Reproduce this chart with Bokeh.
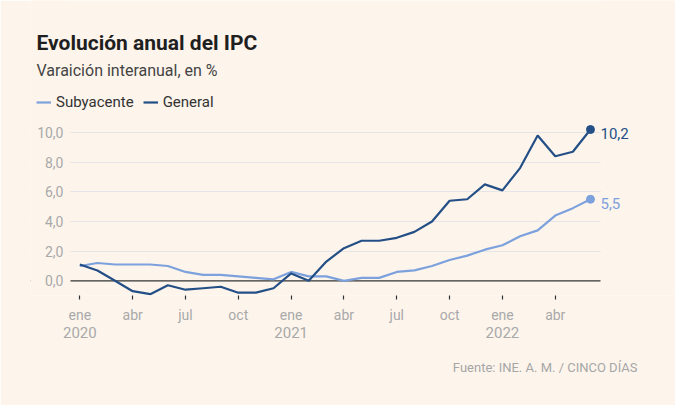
from bokeh.plotting import figure
from bokeh.models import (ColumnDataSource, FixedTicker, LinearAxis, Span, Title, Label,
                          LabelSet, Legend, LegendItem, Range1d, BoxAnnotation)
from bokeh.core.properties import value
from bokeh.embed import file_html
from bokeh.resources import INLINE

# ---- data ----
meses = ["2020-01", "2020-02", "2020-03", "2020-04", "2020-05", "2020-06",
         "2020-07", "2020-08", "2020-09", "2020-10", "2020-11", "2020-12",
         "2021-01", "2021-02", "2021-03", "2021-04", "2021-05", "2021-06",
         "2021-07", "2021-08", "2021-09", "2021-10", "2021-11", "2021-12",
         "2022-01", "2022-02", "2022-03", "2022-04", "2022-05", "2022-06"]
general = [1.1, 0.7, 0.0, -0.7, -0.9, -0.3, -0.6, -0.5, -0.4, -0.8, -0.8, -0.5,
           0.5, 0.0, 1.3, 2.2, 2.7, 2.7, 2.9, 3.3, 4.0, 5.4, 5.5, 6.5,
           6.1, 7.6, 9.8, 8.4, 8.7, 10.2]
subyacente = [1.0, 1.2, 1.1, 1.1, 1.1, 1.0, 0.6, 0.4, 0.4, 0.3, 0.2, 0.1,
              0.6, 0.3, 0.3, 0.0, 0.2, 0.2, 0.6, 0.7, 1.0, 1.4, 1.7, 2.1,
              2.4, 3.0, 3.4, 4.4, 4.9, 5.5]
tick_meses = ["2020-01", "2020-04", "2020-07", "2020-10",
              "2021-01", "2021-04", "2021-07", "2021-10",
              "2022-01", "2022-04"]
tick_etiquetas = ["ene", "abr", "jul", "oct", "ene", "abr", "jul", "oct", "ene", "abr"]
tick_anios = ["2020-01", "2021-01", "2022-01"]
anios = ["2020", "2021", "2022"]
y_ticks = [0, 2, 4, 6, 8, 10]
y_etiquetas = ["0,0", "2,0", "4,0", "6,0", "8,0", "10,0"]

BG = "#fdf5ec"
LIGHT = "#7ca1dd"
DARK = "#244f86"
GREY = "#a9a9a9"
FONT = "Roboto"

x = list(range(len(meses)))
idx = {m: i for i, m in enumerate(meses)}

# layout constants (frame spans from the left margin to the right edge)
PX_MONTH = 17.61
FRAME_LEFT = 30
TEXT_X = 36 - FRAME_LEFT
PLOT_LEFT, PLOT_RIGHT = -0.53, 29.57   # extent of grid / axis area in months
X0 = PLOT_LEFT - (70 - FRAME_LEFT) / PX_MONTH
X1 = PLOT_RIGHT + 75 / PX_MONTH
FRAME_H = 295
Y0, Y1 = -0.99, 18.90

p = figure(width=675, height=405,
           x_range=Range1d(X0, X1), y_range=Range1d(Y0, Y1),
           output_backend="svg", toolbar_location=None,
           min_border_left=FRAME_LEFT, min_border_right=0,
           min_border_top=0, min_border_bottom=405 - FRAME_H,
           background_fill_color=BG, border_fill_color=BG,
           outline_line_color=None)

# grid
p.xgrid.visible = False
p.ygrid.ticker = FixedTicker(ticks=[t for t in y_ticks if t != 0])
p.ygrid.grid_line_color = "#e5e4e6"
p.ygrid.grid_line_width = 1

# zero line
p.add_layout(Span(location=0, dimension="width", line_color="#333333",
                  line_width=1.3, level="underlay"))
# limit grid + zero line to the plotting area
p.add_layout(BoxAnnotation(left=PLOT_RIGHT, fill_color=BG, fill_alpha=1,
                           line_color=None, level="underlay"))
p.add_layout(BoxAnnotation(right=PLOT_LEFT, fill_color=BG, fill_alpha=1,
                           line_color=None, level="underlay"))

# y axis
ya = p.yaxis[0]
ya.fixed_location = PLOT_LEFT
ya.ticker = FixedTicker(ticks=y_ticks)
ya.major_label_overrides = {t: l for t, l in zip(y_ticks, y_etiquetas)}
ya.axis_line_color = None
ya.major_tick_line_color = None
ya.major_tick_in = 0
ya.major_tick_out = 0
ya.minor_tick_line_color = None
ya.major_label_text_font = FONT
ya.major_label_text_font_size = "14px"
ya.major_label_text_color = GREY
ya.major_label_standoff = 7

# x axis (months)
xa = p.xaxis[0]
xa.ticker = FixedTicker(ticks=[idx[m] for m in tick_meses])
xa.major_label_overrides = {idx[m]: l for m, l in zip(tick_meses, tick_etiquetas)}
xa.axis_line_color = None
xa.major_tick_line_color = "#333333"
xa.major_tick_line_width = 1.2
xa.major_tick_in = 0
xa.major_tick_out = 4
xa.minor_tick_line_color = None
xa.major_label_text_font = FONT
xa.major_label_text_font_size = "14px"
xa.major_label_text_color = GREY
xa.major_label_standoff = 7

# x axis (years)
ya2 = LinearAxis(ticker=FixedTicker(ticks=[idx[m] for m in tick_anios]),
                 major_label_overrides={idx[m]: l for m, l in zip(tick_anios, anios)},
                 axis_line_color=None, major_tick_line_color=None,
                 minor_tick_line_color=None, major_tick_in=0, major_tick_out=0,
                 major_label_text_font=FONT, major_label_text_font_size="15px",
                 major_label_text_color=GREY, major_label_standoff=1)
p.add_layout(ya2, "below")

src = ColumnDataSource(dict(x=x, general=general, subyacente=subyacente))
r_sub = p.line("x", "subyacente", source=src, line_color=LIGHT, line_width=2.2)
r_gen = p.line("x", "general", source=src, line_color=DARK, line_width=2.2)

end_src = ColumnDataSource(dict(
    x=[x[-1], x[-1]],
    y=[general[-1], subyacente[-1]],
    color=[DARK, LIGHT],
    label=[f"{general[-1]:.1f}".replace(".", ","), f"{subyacente[-1]:.1f}".replace(".", ",")],
))
p.scatter("x", "y", source=end_src, size=8, color="color")
p.add_layout(LabelSet(x="x", y="y", text="label", source=end_src, x_offset=10, y_offset=-4,
                      text_baseline="middle", text_align="left", text_color="color",
                      text_font=value(FONT), text_font_size=value("15px")))

legend = Legend(items=[LegendItem(label="Subyacente", renderers=[r_sub]),
                       LegendItem(label="General", renderers=[r_gen])],
                orientation="horizontal", location=(TEXT_X, FRAME_H - 111),
                background_fill_alpha=0, border_line_color=None,
                padding=0, margin=0, spacing=9, glyph_width=15, glyph_height=14,
                label_height=14, label_standoff=5,
                label_text_font=FONT, label_text_font_size="15px",
                label_text_color="#333333")
p.add_layout(legend, "center")

p.add_layout(Label(x=TEXT_X, y=FRAME_H - 42, x_units="screen", y_units="screen",
                   text="Evolución anual del IPC", text_font=FONT,
                   text_font_size="21px", text_font_style="bold",
                   text_color="#1f1f1f", text_baseline="alphabetic"))
p.add_layout(Label(x=TEXT_X, y=FRAME_H - 70, x_units="screen", y_units="screen",
                   text="Varaición interanual, en %", text_font=FONT,
                   text_font_size="16px", text_color="#444444",
                   text_baseline="alphabetic"))

p.add_layout(Title(text="Fuente: INE. A. M. / CINCO DÍAS", align="right", offset=38,
                   standoff=34, text_font=FONT, text_font_size="13px",
                   text_font_style="normal", text_color="#a6a6a6"), "below")

open("out.html", "w").write(file_html(p, INLINE))
